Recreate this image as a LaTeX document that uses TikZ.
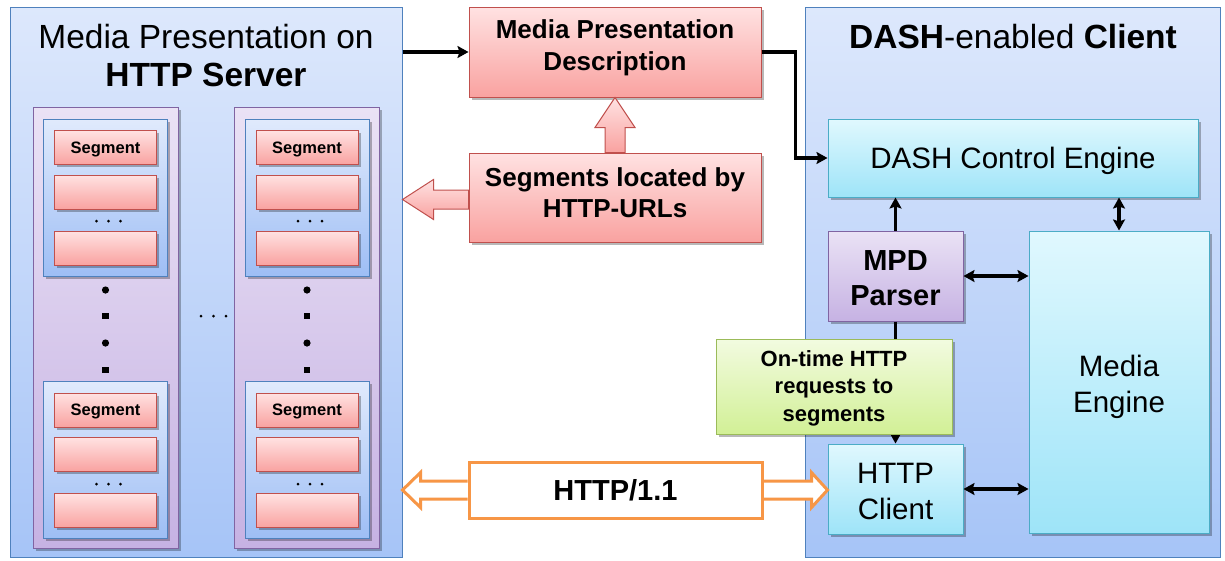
\documentclass[tikz,border=0pt]{standalone}
\usepackage{fontspec}
\setmainfont{Liberation Sans}
\usetikzlibrary{shadows,calc,arrows.meta}
\definecolor{bBord}{RGB}{79,129,189}
\definecolor{bTop}{RGB}{221,232,252}
\definecolor{bBot}{RGB}{166,196,247}
\definecolor{gTop}{RGB}{224,234,252}
\definecolor{gBot}{RGB}{158,190,245}
\definecolor{pBord}{RGB}{128,100,162}
\definecolor{pTop}{RGB}{234,226,245}
\definecolor{pBot}{RGB}{198,178,227}
\definecolor{rBord}{RGB}{192,80,77}
\definecolor{rTop}{RGB}{255,226,226}
\definecolor{rBot}{RGB}{249,162,160}
\definecolor{cBord}{RGB}{75,172,198}
\definecolor{cTop}{RGB}{224,248,254}
\definecolor{cBot}{RGB}{158,228,248}
\definecolor{grBord}{RGB}{155,187,89}
\definecolor{grTop}{RGB}{242,251,224}
\definecolor{grBot}{RGB}{210,240,150}
\definecolor{orangeB}{RGB}{247,150,70}
\tikzset{
  shad/.style={drop shadow={opacity=0.28,shadow xshift=2.5pt,shadow yshift=-2.5pt,fill=black}},
  bigbox/.style={draw=bBord,line width=1pt,top color=bTop,bottom color=bBot,inner sep=0pt},
  colbox/.style={draw=pBord,line width=1pt,top color=pTop,bottom color=pBot,shad,inner sep=0pt},
  grpbox/.style={draw=bBord,line width=1pt,top color=gTop,bottom color=gBot,shad,inner sep=0pt},
  segbox/.style={draw=rBord,line width=1pt,top color=rTop,bottom color=rBot,shad,inner sep=0pt,
    minimum width=102,minimum height=34,text depth=0pt,font=\fontsize{16.5}{18}\selectfont\bfseries},
  redbox/.style={draw=rBord,line width=1pt,top color=rTop,bottom color=rBot,shad,inner sep=0pt},
  cyanbox/.style={draw=cBord,line width=1pt,top color=cTop,bottom color=cBot,shad,inner sep=0pt},
  parserbox/.style={draw=pBord,line width=1pt,top color=pTop,bottom color=pBot,shad,inner sep=0pt},
  greenbox/.style={draw=grBord,line width=1pt,top color=grTop,bottom color=grBot,shad,inner sep=0pt},
  redtext/.style={inner sep=0pt,align=center,font=\fontsize{26}{31.5}\selectfont\bfseries},
  cyantext/.style={inner sep=0pt,align=center,font=\fontsize{29.5}{36}\selectfont},
  parsertext/.style={inner sep=0pt,align=center,font=\fontsize{29}{35}\selectfont\bfseries},
  greentext/.style={inner sep=0pt,align=center,font=\fontsize{22}{27.5}\selectfont\bfseries},
  httpbox/.style={draw=orangeB,line width=3pt,fill=white,inner sep=0pt,font=\fontsize{29}{34}\selectfont\bfseries},
  titlefont/.style={inner sep=0pt,align=center,font=\fontsize{33.5}{38}\selectfont},
  blk/.style={line width=3.4pt,-{Stealth[length=11pt,width=12pt,inset=2pt]}},
  blk2/.style={line width=3.4pt,{Stealth[length=11pt,width=12pt,inset=2pt]}-{Stealth[length=11pt,width=12pt,inset=2pt]}},
  pinkarrow/.style={draw=rBord,line width=1pt,top color=rTop,bottom color=rBot},
  orangearrow/.style={draw=orangeB,line width=3pt,fill=white,line join=miter},
}
\begin{document}
\begin{tikzpicture}[x=1pt,y=-1pt]
\useasboundingbox (0,0) rectangle (1225,560);
\fill[white] (0,0) rectangle (1225,560);

% main containers
\node[bigbox,minimum width=392,minimum height=550] (server) at (206,282) {};
\node[bigbox,minimum width=415,minimum height=550] (client) at (1012.5,282) {};
\node[titlefont] (stitle) at (206,56) {Media Presentation on\\\textbf{HTTP Server}};
\node[titlefont] (ctitle) at (1013,37) {\textbf{DASH}-enabled \textbf{Client}};

% representation columns
\foreach \c/\x in {1/105.5,2/307}{
  \node[colbox,minimum width=145,minimum height=441] (col\c) at (\x,327.5) {};
  \node[grpbox,minimum width=124,minimum height=157] (grpA\c) at (\x,197.5) {};
  \node[grpbox,minimum width=124,minimum height=157] (grpB\c) at (\x,459.5) {};
  \node[segbox] (segA\c a) at (\x,147.5) {Segment};
  \node[segbox] (segA\c b) at (\x,192) {};
  \node[segbox] (segA\c c) at (\x,248) {};
  \node[segbox] (segB\c a) at (\x,410) {Segment};
  \node[segbox] (segB\c b) at (\x,454.5) {};
  \node[segbox] (segB\c c) at (\x,510.5) {};
  \foreach \dx in {-9,3,15}{
    \fill (\x+\dx,221) circle (1.5);
    \fill (\x+\dx,484) circle (1.5);
  }
  \fill (\x,290) circle (3.6);
  \fill (\x,343) circle (3.6);
  \fill (\x-3.4,312.6) rectangle ++(6.8,6.8);
  \fill (\x-3.4,366.6) rectangle ++(6.8,6.8);
}
\foreach \dx in {201,213.5,226}{ \fill (\dx,316) circle (1.5); }

% middle boxes
\node[redbox,minimum width=292,minimum height=90] (mpd) at (615,52) {};
\node[redtext] (mpdtext) at (615,48) {Media Presentation\\Description};
\node[redbox,minimum width=292,minimum height=89] (segloc) at (615,197.5) {};
\node[redtext] (segloctext) at (615,192.5) {Segments located by\\HTTP-URLs};

% block arrows (pink)
\path[pinkarrow] ($(segloc.north)+(-10,0)$) -- ($(mpd.south)+(-10,30)$) -- ($(mpd.south)+(-20,30)$) -- (mpd.south)
  -- ($(mpd.south)+(20,30)$) -- ($(mpd.south)+(10,30)$) -- ($(segloc.north)+(10,0)$) -- cycle;
\coordinate (lt) at (server.east|-segloc.west);
\path[pinkarrow] ($(segloc.west)+(0,-7.5)$) -- ($(lt)+(31,-7.5)$) -- ($(lt)+(31,-18)$) -- ($(lt)+(0,2)$)
  -- ($(lt)+(31,22)$) -- ($(lt)+(31,11.5)$) -- ($(segloc.west)+(0,11.5)$) -- cycle;

% client internals
\node[cyanbox,minimum width=370,minimum height=78] (dce) at (1013,158) {};
\node[cyantext] at ($(dce)+(0,3)$) {DASH Control Engine};
\node[parserbox,minimum width=135,minimum height=90] (parser) at (895.5,276) {};
\node[parsertext] at ($(parser)+(0,2)$) {MPD\\Parser};
\node[cyanbox,minimum width=180,minimum height=302] (me) at (1119,382) {};
\node[cyantext] at ($(me)+(0,5)$) {Media\\Engine};
\node[cyanbox,minimum width=135,minimum height=90] (hc) at (895.5,489) {};
\node[cyantext] at ($(hc)+(0,2)$) {HTTP\\Client};

% black connectors
\draw[blk] (server.east|-mpd.west) -- (mpd.west);
\draw[blk] (mpd.east) -- ++(34,0) |- (dce.west);
\draw[blk] (parser.north) -- (parser.north|-dce.south);
\draw[blk2] (me.north) -- (me.north|-dce.south);
\draw[blk2] (parser.east) -- (parser.east-|me.west);
\draw[blk2] (hc.east) -- (hc.east-|me.west);
\draw[blk] (parser.south) -- (hc.north);

\node[greenbox,minimum width=236,minimum height=95] (req) at (834,386.5) {};
\node[greentext] at ($(req)+(0,1.5)$) {On-time HTTP\\requests to\\segments};

% HTTP/1.1 with orange double block arrow
\coordinate (hl) at (server.east|-615,490);
\coordinate (hr) at (hc.west|-615,490);
\node[httpbox,minimum width=293,minimum height=56] (http) at (615.5,490) {};
\path[orangearrow] ($(http.west)+(0,-9)$) -- ($(hl)+(18,-9)$) -- ($(hl)+(18,-17.5)$) -- (hl)
  -- ($(hl)+(18,17.5)$) -- ($(hl)+(18,9)$) -- ($(http.west)+(0,9)$);
\path[orangearrow] ($(http.east)+(0,-9)$) -- ($(hr)+(-16,-9)$) -- ($(hr)+(-16,-17.5)$) -- (hr)
  -- ($(hr)+(-16,17.5)$) -- ($(hr)+(-16,9)$) -- ($(http.east)+(0,9)$);
\node[httpbox,minimum width=293,minimum height=56] at (http) {HTTP/1.1};
\end{tikzpicture}
\end{document}
